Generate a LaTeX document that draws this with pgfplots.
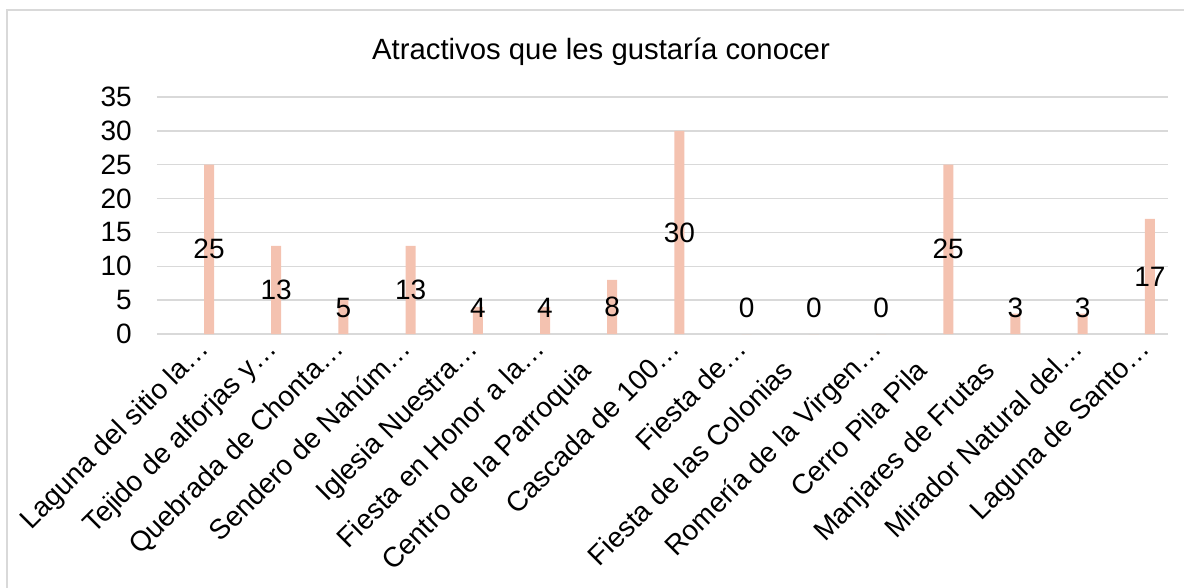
\documentclass[border=0pt]{standalone}
\usepackage{fontspec}
\setmainfont{Liberation Sans}
\usepackage{pgfplots}
\usepackage{pgfplotstable}
\pgfplotsset{compat=1.18}

\definecolor{barc}{HTML}{F4C2B0}
\definecolor{gridc}{HTML}{D9D9D9}

\pgfplotstableread{
x v
0 25
1 13
2 5
3 13
4 4
5 4
6 8
7 30
8 0
9 0
10 0
11 25
12 3
13 3
14 17
}\datos

\newcommand{\fs}{\fontsize{28}{33}\selectfont}
% full (not truncated) labels sit a little further down the diagonal
\newcommand{\pad}{\kern30pt}

\begin{document}
\begin{tikzpicture}[x=1pt,y=1pt]
\useasboundingbox (0,0) rectangle (1184,587);
\draw[gridc, line width=2pt] (7,-5) -- (7,577) -- (1195,577);
\node[font=\fontsize{29.3}{34}\selectfont, anchor=base] at (601,527) {Atractivos que les gustaría conocer};
\begin{axis}[
    at={(157pt,253pt)}, anchor=south west,
    scale only axis,
    width=1011pt, height=237pt,
    xmin=-0.774, xmax=14.27,
    ymin=0, ymax=35,
    ytick={0,5,...,35},
    xtick={0,...,14},
    xticklabels={Laguna del sitio la…, Tejido de alforjas y…, Quebrada de Chonta…, Sendero de Nahúm…, Iglesia Nuestra…, Fiesta en Honor a la…, Centro de la Parroquia\pad, Cascada de 100…, Fiesta de…, Fiesta de las Colonias\pad, Romería de la Virgen…, Cerro Pila Pila\pad, Manjares de Frutas\pad, Mirador Natural del…, Laguna de Santo…},
    axis line style={draw=none},
    tick style={draw=none},
    ymajorgrids,
    major grid style={draw=gridc, line width=1.5pt},
    /pgf/number format/assume math mode=true,
    yticklabel style={font=\fs, anchor=east, inner sep=0pt, xshift=-25pt},
    xticklabel style={font=\fs, inner sep=0pt, text height=0.75em, text depth=0.2em, yshift=-15pt, anchor=east, rotate=45},
    clip=false,
  ]
  \addplot[ybar, bar width=10pt, fill=barc, draw=none] table[x=x, y=v] {\datos};
  \addplot[draw=none, mark=none, nodes near coords, point meta=explicit,
    every node near coord/.append style={anchor=center, inner sep=0pt, font=\fs, text=black}]
    table[x=x, y expr={max(\thisrow{v}/2,3.85)}, meta=v] {\datos};
\end{axis}
\end{tikzpicture}
\end{document}
